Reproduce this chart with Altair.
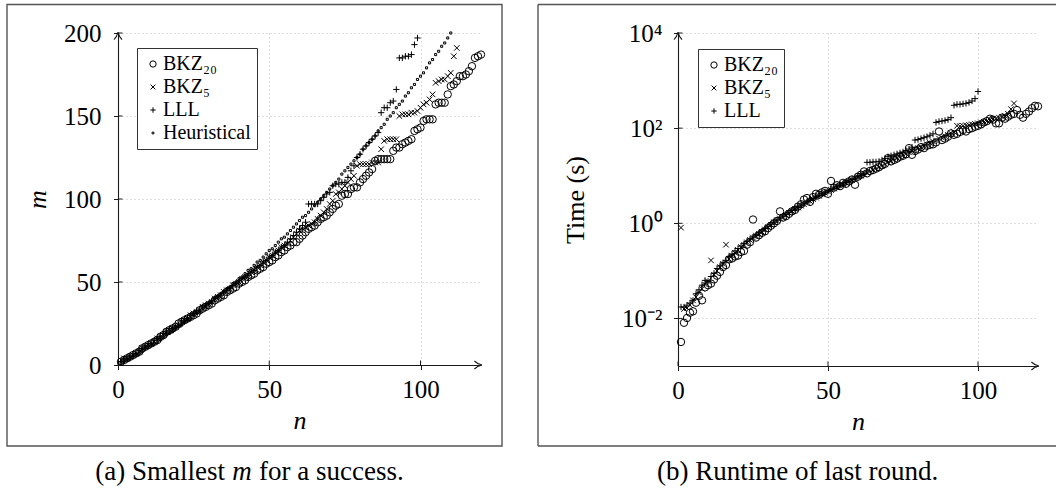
import altair as alt
import pandas as pd

FONT = "Liberation Serif"

# ---------------- (a) smallest m for a success ----------------
SERIES_A = ["BKZ₂₀", "BKZ₅", "LLL", "Heuristical"]

m_bkz20 = [2, 3, 4, 5, 6, 7, 8, 10, 11, 12,
           13, 14, 15, 17, 18, 20, 21, 22, 23, 25,
           26, 27, 28, 29, 30, 31, 33, 34, 35, 36,
           37, 39, 40, 41, 42, 44, 45, 46, 47, 49,
           50, 51, 53, 54, 55, 57, 58, 59, 61, 62,
           63, 65, 66, 68, 69, 71, 72, 74, 74, 76,
           78, 80, 82, 83, 84, 86, 88, 89, 90, 92,
           94, 96, 97, 102, 103, 103, 106, 107, 107, 110,
           112, 114, 116, 118, 123, 124, 124, 124, 124, 124,
           129, 131, 131, 133, 134, 135, 136, 141, 142, 143,
           147, 148, 148, 148, 157, 158, 158, 158, 163, 168,
           169, 171, 174, 174, 175, 177, 180, 185, 186, 187]

m_bkz5 = [3, 4, 4, 5, 6, 7, 8, 10, 11, 12,
          13, 14, 16, 17, 18, 20, 21, 22, 23, 24,
          26, 27, 28, 30, 31, 32, 33, 35, 36, 37,
          38, 40, 41, 42, 44, 45, 46, 48, 49, 50,
          52, 53, 54, 56, 57, 59, 60, 62, 63, 65,
          66, 68, 69, 71, 72, 73, 75, 77, 79, 81,
          82, 83, 84, 85, 86, 88, 90, 92, 94, 97,
          99, 103, 104, 106, 108, 110, 112, 114, 120, 121,
          121, 121, 121, 122, 122, 122, 130, 135, 136, 136,
          136, 136, 150, 151, 151, 151, 152, 152, 153, 155,
          157, 158, 160, 163, 170, 171, 172, 172, 174, 176,
          186, 191]

m_lll = [2, 3, 4, 5, 6, 7, 9, 10, 11, 12,
         13, 15, 16, 17, 19, 20, 21, 22, 23, 24,
         26, 27, 28, 30, 31, 32, 33, 35, 36, 37,
         38, 40, 41, 42, 44, 45, 46, 48, 49, 50,
         52, 53, 54, 56, 57, 59, 60, 62, 63, 65,
         66, 68, 69, 71, 72, 74, 76, 78, 80, 82,
         84, 86, 97, 97, 97, 97, 99, 101, 103, 104,
         108, 109, 109, 110, 110, 113, 117, 120, 125, 127,
         130, 132, 134, 136, 138, 140, 152, 155, 155, 158,
         159, 166, 185, 185, 186, 186, 187, 193, 197]

m_heur = [1, 2, 3, 4, 5, 6, 7, 8, 10, 11,
          12, 13, 14, 15, 17, 18, 19, 20, 22, 23,
          24, 26, 27, 28, 30, 31, 32, 34, 35, 37,
          38, 40, 41, 43, 44, 46, 47, 49, 50, 52,
          53, 55, 57, 58, 60, 62, 63, 65, 67, 69,
          70, 72, 74, 76, 77, 79, 81, 83, 85, 87,
          89, 90, 92, 94, 96, 98, 100, 102, 104, 106,
          108, 110, 112, 115, 117, 119, 121, 123, 125, 127,
          130, 132, 134, 136, 138, 141, 143, 145, 148, 150,
          152, 155, 157, 159, 162, 164, 167, 169, 172, 174,
          176, 179, 182, 184, 187, 189, 192, 194, 197, 200]

# ---------------- (b) runtime of last round (seconds) ----------------
SERIES_B = ["BKZ₂₀", "BKZ₅", "LLL"]

t_bkz20 = [0.0032, 0.0081, 0.0102, 0.0132, 0.0141, 0.0214, 0.030, 0.024, 0.045, 0.050,
           0.054, 0.066, 0.079, 0.095, 0.120, 0.132, 0.174, 0.182, 0.20, 0.209,
           0.25, 0.263, 0.355, 0.40, 1.2, 0.50, 0.56, 0.63, 0.68, 0.79,
           0.89, 1.0, 1.12, 1.78, 1.32, 1.41, 1.58, 1.78, 1.91, 2.24,
           2.51, 3.16, 3.39, 2.82, 3.55, 4.17, 3.98, 4.47, 4.79, 4.17,
           7.76, 5.62, 6.31, 6.03, 7.08, 6.76, 7.59, 8.32, 6.46, 9.55,
           10.5, 12.3, 11.2, 12.6, 13.2, 14.1, 15.1, 16.6, 17.8, 23.4,
           20.0, 21.4, 22.9, 25.1, 26.3, 28.2, 38.0, 27.5, 33.1, 35.5,
           39.8, 38.0, 42.7, 44.7, 45.7, 50.1, 85.1, 56.2, 60.3, 66.1,
           77.6, 72.4, 75.9, 83.2, 91.2, 85.1, 95.5, 100, 107, 112,
           120, 132, 141, 158, 151, 126, 126, 166, 158, 174,
           191, 200, 240, 191, 166, 200, 224, 263, 295, 288]

t_bkz5 = [0.81, 0.0158, 0.0166, 0.019, 0.024, 0.028, 0.035, 0.042, 0.052, 0.060,
          0.166, 0.083, 0.10, 0.12, 0.141, 0.355, 0.178, 0.209, 0.24, 0.275,
          0.316, 0.355, 0.398, 0.447, 0.50, 0.55, 0.60, 0.66, 0.74, 0.83,
          0.93, 1.05, 1.15, 1.26, 1.38, 1.51, 1.66, 1.82, 2.0, 2.14,
          2.34, 2.51, 2.75, 2.95, 3.24, 3.47, 3.80, 4.07, 4.37, 4.68,
          5.01, 5.37, 5.75, 6.17, 6.61, 7.08, 7.59, 8.13, 8.71, 9.33,
          10.0, 10.7, 11.5, 12.3, 13.2, 14.1, 15.1, 16.2, 17.4, 19.1,
          20.4, 21.9, 23.4, 25.1, 26.9, 28.8, 30.9, 33.1, 35.5, 38.0,
          39.8, 42.7, 45.7, 49.0, 52.5, 55.0, 60.3, 63.1, 67.6, 72.4,
          77.6, 83.2, 112, 110, 112, 115, 117, 120, 123, 126,
          132, 135, 141, 148, 155, 158, 166, 174, 182, 200,
          251, 331]

t_lll = [0.0174, 0.0174, 0.019, 0.021, 0.024, 0.033, 0.040, 0.050, 0.063, 0.060,
         0.076, 0.089, 0.112, 0.126, 0.148, 0.166, 0.20, 0.224, 0.263, 0.295,
         0.331, 0.372, 0.417, 0.468, 0.513, 0.562, 0.631, 0.692, 0.776, 0.851,
         0.955, 1.05, 1.17, 1.29, 1.41, 1.55, 1.70, 1.86, 2.0, 2.19,
         2.40, 2.57, 2.82, 3.02, 3.31, 3.55, 3.80, 4.17, 4.47, 4.79,
         5.13, 5.50, 5.89, 6.31, 6.76, 7.24, 7.76, 8.32, 8.91, 9.55,
         10.2, 11.0, 19.1, 19.1, 19.5, 19.5, 20.0, 21.4, 22.9, 25.1,
         26.3, 27.5, 28.8, 30.2, 31.6, 33.9, 36.3, 39.8, 56.2, 57.5,
         60.3, 63.1, 66.1, 70.8, 75.9, 132, 138, 141, 145, 151,
         166, 302, 316, 316, 324, 331, 347, 372, 417, 589]

# tick values
XTICKS = [0, 50, 100]
YTICKS_A = [0, 50, 100, 150, 200]
YTICKS_B = [0.01, 1, 100, 10000]

CAPTION_A = ["(a) Smallest", "m", "for a success."]
CAPTION_B = "(b) Runtime of last round."


def long_frame(series, values, col):
    return pd.DataFrame({"n": list(range(1, len(values) + 1)), col: values, "series": series})


df_a = pd.concat([long_frame(SERIES_A[0], m_bkz20, "m"),
                  long_frame(SERIES_A[1], m_bkz5, "m"),
                  long_frame(SERIES_A[2], m_lll, "m"),
                  long_frame(SERIES_A[3], m_heur, "m")], ignore_index=True)
df_b = pd.concat([long_frame(SERIES_B[0], t_bkz20, "t"),
                  long_frame(SERIES_B[1], t_bkz5, "t"),
                  long_frame(SERIES_B[2], t_lll, "t")], ignore_index=True)

# ---------------- styling ----------------
LW, LH = 363, 332
RW, RH = 360, 333
SYM = 55
X_PATH = "M-0.75,-0.75L0.75,0.75M-0.75,0.75L0.75,-0.75"
PLUS_PATH = "M-0.85,0L0.85,0M0,-0.85L0,0.85"
DOT_PATH = "M-0.28,-0.28L0.28,-0.28L0.28,0.28L-0.28,0.28Z"
ARROW_PATH = "M-0.9,0.7Q-0.25,0.05,0,-1Q0.25,0.05,0.9,0.7"
INK = "#1a1a1a"
GRID = dict(grid=True, gridColor="#b5b5b5", gridDash=[1, 3], gridWidth=0.9)
COMMON = dict(labelFont=FONT, labelFontSize=25, labelColor="black",
              titleFont=FONT, titleFontSize=26, titleFontWeight="normal", titleColor="black",
              tickSize=4.5, tickColor=INK, tickWidth=1, domainColor=INK, domainWidth=1.1,
              labelFlush=False, labelOverlap=False, titleAlign="center", titleBaseline="alphabetic")


def x_axis(w):
    return alt.Axis(values=XTICKS, title="n", titleFontStyle="italic",
                    titleX=w / 2, titleY=63, labelBaseline="middle", labelPadding=19.5,
                    **GRID, **COMMON)


def legend(x, y):
    return alt.Legend(title=None, orient="none", legendX=x, legendY=y, direction="vertical",
                      padding=6, rowPadding=3, labelFont=FONT, labelFontSize=20, labelColor="black",
                      labelOffset=0, strokeColor="#333", fillColor="white", symbolSize=40,
                      symbolFillColor="transparent", symbolStrokeColor="black", symbolStrokeWidth=1)


dummy = alt.Data(values=[{}])


def frame_rect(x0, x1):
    return alt.Chart(dummy).mark_rect(fill="transparent", stroke="#555", strokeWidth=1.4).encode(
        x=alt.value(x0), x2=alt.value(x1), y=alt.value(-28.5), y2=alt.value(413))


def arrows(w, h):
    up = alt.Chart(dummy).mark_point(shape=ARROW_PATH, size=79, filled=False, stroke=INK,
                                     strokeWidth=1.1, opacity=1).encode(
        x=alt.value(0), y=alt.value(3.5))
    right = alt.Chart(dummy).mark_point(shape=ARROW_PATH, size=79, filled=False, stroke=INK,
                                        strokeWidth=1.1, angle=90, opacity=1).encode(
        x=alt.value(w - 3.5), y=alt.value(h))
    return [up, right]


# ---------------- panel (a) ----------------
xs_a = alt.Scale(domain=[0, 120], nice=False, zero=False)
ys_a = alt.Scale(domain=[0, 200], nice=False)
xax_a = x_axis(LW)
yax_a = alt.Axis(values=YTICKS_A, title="m", titleFontStyle="italic",
                 titleAngle=-90, titleX=-73, titleY=LH / 2,
                 labelPadding=12.5, **GRID, **COMMON)

pts_a = alt.Chart(df_a).mark_point(filled=False, stroke="black", strokeWidth=1, opacity=1,
                                   size=SYM).encode(
    x=alt.X("n:Q", scale=xs_a, axis=xax_a),
    y=alt.Y("m:Q", scale=ys_a, axis=yax_a),
    shape=alt.Shape("series:N", scale=alt.Scale(domain=SERIES_A,
                                                range=["circle", X_PATH, PLUS_PATH, DOT_PATH]),
                    legend=legend(19, 15)),
)

xt_a = alt.Chart(pd.DataFrame({"n": XTICKS})).mark_rule(color=INK, strokeWidth=1).encode(
    x=alt.X("n:Q", scale=xs_a, axis=xax_a), y=alt.value(LH), y2=alt.value(LH - 4.5))
yt_a = alt.Chart(pd.DataFrame({"m": YTICKS_A})).mark_rule(color=INK, strokeWidth=1).encode(
    y=alt.Y("m:Q", scale=ys_a, axis=yax_a), x=alt.value(0), x2=alt.value(4.5))

cap_style = dict(font=FONT, fontSize=27, color="black", baseline="alphabetic")
cap_a1 = alt.Chart(dummy).mark_text(align="right", **cap_style).encode(
    x=alt.value(107), y=alt.value(447), text=alt.value(CAPTION_A[0]))
cap_a2 = alt.Chart(dummy).mark_text(align="center", fontStyle="italic", **cap_style).encode(
    x=alt.value(124), y=alt.value(447), text=alt.value(CAPTION_A[1]))
cap_a3 = alt.Chart(dummy).mark_text(align="left", **cap_style).encode(
    x=alt.value(141), y=alt.value(447), text=alt.value(CAPTION_A[2]))

left = alt.layer(frame_rect(-111, 384), cap_a1, cap_a2, cap_a3, xt_a, yt_a, pts_a,
                 *arrows(LW, LH)).properties(width=LW, height=LH)

# ---------------- panel (b) ----------------
xs_b = alt.Scale(domain=[0, 120], nice=False, zero=False)
ys_b = alt.Scale(type="log", domain=[0.001, 10000], nice=False)

label_expr = ("datum.value >= 5000 ? '10⁴' : datum.value >= 50 ? '10²' : "
              "datum.value >= 0.5 ? '10⁰' : '10⁻²'")
xax_b = x_axis(RW)
yax_b = alt.Axis(values=YTICKS_B, title="Time (s)", labelExpr=label_expr,
                 titleAngle=-90, titleX=-95, titleY=RH / 2,
                 labelPadding=11.5, **GRID, **COMMON)

pts_b = alt.Chart(df_b).mark_point(filled=False, stroke="black", strokeWidth=1, opacity=1,
                                   size=SYM).encode(
    x=alt.X("n:Q", scale=xs_b, axis=xax_b),
    y=alt.Y("t:Q", scale=ys_b, axis=yax_b),
    shape=alt.Shape("series:N", scale=alt.Scale(domain=SERIES_B,
                                                range=["circle", X_PATH, PLUS_PATH]),
                    legend=legend(20, 16)),
)

xt_b = alt.Chart(pd.DataFrame({"n": XTICKS})).mark_rule(color=INK, strokeWidth=1).encode(
    x=alt.X("n:Q", scale=xs_b, axis=xax_b), y=alt.value(RH), y2=alt.value(RH - 4.5))
yt_b = alt.Chart(pd.DataFrame({"t": YTICKS_B})).mark_rule(color=INK, strokeWidth=1).encode(
    y=alt.Y("t:Q", scale=ys_b, axis=yax_b), x=alt.value(0), x2=alt.value(4.5))

cap_b = alt.Chart(dummy).mark_text(align="center", **cap_style).encode(
    x=alt.value(119.7), y=alt.value(447), text=alt.value(CAPTION_B))

frame_style = dict(color="#555", strokeWidth=1.4)
fr_top = alt.Chart(dummy).mark_rule(**frame_style).encode(
    x=alt.value(-140), x2=alt.value(378), y=alt.value(-28.5))
fr_bot = alt.Chart(dummy).mark_rule(**frame_style).encode(
    x=alt.value(-140), x2=alt.value(378), y=alt.value(413))
fr_left = alt.Chart(dummy).mark_rule(**frame_style).encode(
    x=alt.value(-140), y=alt.value(-28.5), y2=alt.value(413))

right = alt.layer(fr_top, fr_bot, fr_left, cap_b, xt_b, yt_b, pts_b,
                  *arrows(RW, RH)).properties(width=RW, height=RH)

chart = alt.hconcat(left, right, spacing=197, bounds="flush").resolve_scale(
    shape="independent"
).resolve_legend(shape="independent").properties(
    padding={"left": 6, "top": 3, "right": 0, "bottom": 2}, background="white"
).configure_view(stroke=None)

chart.save("out.html", embed_options={"renderer": "svg", "actions": False})
